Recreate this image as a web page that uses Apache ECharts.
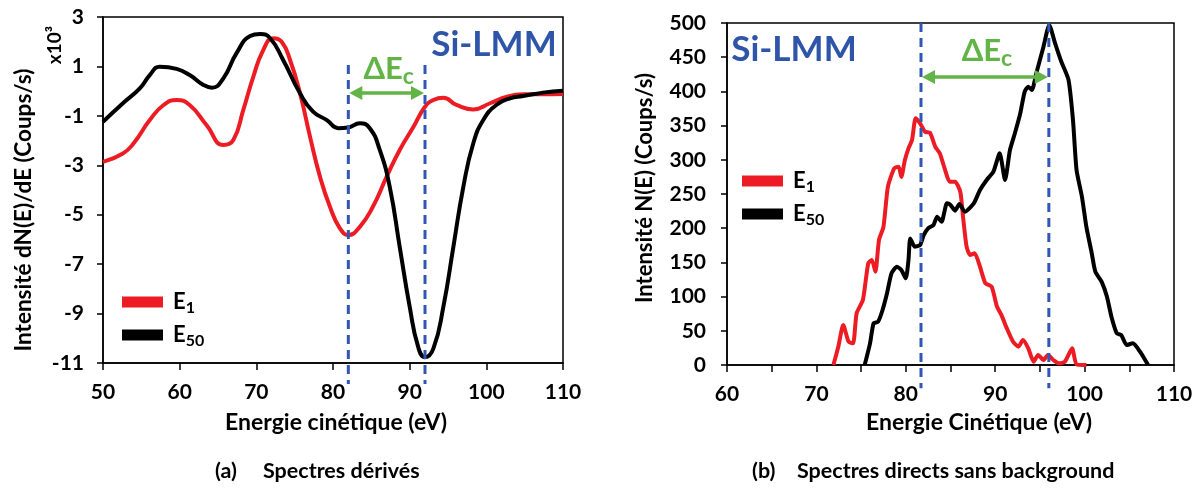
<!DOCTYPE html>
<html><head><meta charset="utf-8">
<script src="https://cdn.jsdelivr.net/npm/echarts@6/dist/echarts.min.js"></script>
<style>html,body{margin:0;padding:0;background:#fff}#c{width:1204px;height:488px}</style>
</head><body><div id="c"></div>
<script>
// ---- (a) derivative spectra ----
const derivE1X = [50, 52.6, 54.0, 56.1, 57.9, 59.6, 61.3, 63.5, 65.7, 67.0, 68.3, 69.6, 70.9, 72.2, 73.3, 74.4, 75.7, 77.0, 78.3, 79.6, 80.9, 82.0, 83.5, 85.2, 87.0, 88.7, 90.5, 92.0, 93.1, 94.4, 96.1, 98.3, 100.5, 102.6, 104.8, 107.0, 110];
const derivE1Y = [-2.86, -2.52, -2.11, -1.17, -0.56, -0.36, -0.56, -1.37, -2.18, -1.98, -0.76, 0.58, 1.66, 2.14, 2.0, 1.26, -0.09, -1.84, -3.46, -4.68, -5.55, -5.82, -5.49, -4.68, -3.46, -2.38, -1.44, -0.63, -0.36, -0.27, -0.56, -0.74, -0.49, -0.23, -0.13, -0.13, -0.12];
const derivE50X = [50, 52.6, 54.8, 56.1, 57.4, 59.6, 61.3, 63.1, 64.2, 65.7, 67.4, 69.2, 70.5, 71.8, 73.5, 75.7, 77.4, 79.2, 80.7, 82.0, 83.5, 84.8, 86.1, 87.4, 88.7, 90.0, 91.1, 92.0, 93.1, 94.4, 95.7, 97.0, 98.3, 99.6, 101.3, 103.1, 104.8, 107.4, 110];
const derivE50Y = [-1.24, -0.49, 0.11, 0.65, 0.99, 0.90, 0.65, 0.25, 0.14, 0.52, 1.53, 2.23, 2.31, 2.14, 1.26, -0.09, -0.83, -1.17, -1.50, -1.47, -1.30, -1.50, -2.38, -3.87, -6.30, -8.72, -10.34, -10.77, -10.41, -8.72, -6.30, -3.87, -2.11, -1.17, -0.56, -0.29, -0.20, -0.06, 0.02];
// ---- (b) direct spectra ----
const directE1X = [71.9, 72.45, 73.0, 73.6, 74.1, 74.5, 75.2, 75.8, 76.2, 76.6, 77.0, 77.5, 78.0, 78.7, 79.2, 79.5, 79.9, 80.3, 80.7, 81.1, 81.6, 82.15, 82.7, 83.3, 83.8, 84.4, 84.9, 85.5, 86.1, 86.4, 86.8, 87.2, 87.7, 88.3, 88.9, 89.6, 90.2, 90.7, 91.3, 92.0, 92.6, 93.1, 93.7, 94.3, 94.8, 95.4, 95.9, 96.5, 97.1, 97.8, 98.6, 99.1, 100.2];
const directE1Y = [0, 26.8, 58.5, 34.1, 31.7, 75.6, 95, 148.7, 153.5, 136.4, 182.7, 202, 260.7, 287.5, 290, 275, 299.7, 316.8, 329, 360.7, 353.4, 341, 339.6, 319, 309.5, 285, 268, 268, 253, 216.8, 173, 160.8, 163.3, 143.7, 119.5, 114.5, 85.3, 73, 53.6, 34, 26.8, 36.5, 24.4, 4.9, 14.6, 7.3, 14.6, 7.3, 2.4, 4.9, 24.4, 1, 0];
const directE50X = [75.4, 76.0, 76.4, 76.9, 77.4, 77.9, 78.4, 79.0, 79.5, 80.0, 80.3, 80.5, 81.0, 81.6, 82.0, 82.5, 83.1, 83.5, 84.0, 84.6, 85.0, 85.5, 86.0, 86.6, 87.6, 88.3, 89.05, 89.8, 90.5, 91.1, 91.65, 92.2, 92.8, 93.3, 93.7, 94.1, 94.6, 95.4, 96.05, 96.7, 97.4, 98.2, 98.7, 99.1, 99.7, 100.2, 100.8, 101.2, 101.9, 102.5, 103.0, 103.6, 104.1, 104.7, 105.4, 106.2, 107.1];
const directE50Y = [0, 31.7, 61, 63.3, 80.4, 104.8, 134, 143.7, 138.9, 126.7, 153.5, 185, 173, 175.4, 190, 199.8, 204.7, 216.8, 209.5, 236.3, 234, 225.6, 235.4, 224, 236.3, 255.8, 270.5, 282.6, 309.5, 270.5, 314.3, 338.8, 367.8, 399.6, 406.9, 402, 426.4, 465.4, 497, 470.3, 443.4, 416.7, 358.2, 285, 246, 202, 163.3, 136.4, 121.8, 99.8, 70.6, 46.3, 43.9, 29.2, 31.7, 19.5, 0];
// annotation values
const derivMarks = [82.0, 92.0];
const directMarks = [81.7, 96.0];
const seriesNames = ['E1', 'E50'];
const captions = ['(a)', 'Spectres dérivés', '(b)', 'Spectres directs sans background'];

const F = 'Lato, "Open Sans", sans-serif';
const RED = '#ed1c24', BLACK = '#000000', BLUE = '#2f55a8', DASH = '#3057b5', GREEN = '#62b447';
const zip = (xs, ys) => xs.map((x, i) => [x, ys[i]]);

const chart = echarts.init(document.getElementById('c'));

const tickLab = {fontFamily: F, fontWeight: 'bold', fontSize: 21, color: '#000'};
function xAx(grid, min, max, interval, fmt) {
  return {gridIndex: grid, type: 'value', min, max, interval,
    axisLine: {onZero: false, lineStyle: {color: '#000', width: 1.5}},
    axisTick: {length: 7, lineStyle: {color: '#000', width: 1.5}},
    splitLine: {show: false},
    axisLabel: Object.assign({margin: 19, formatter: fmt}, tickLab)};
}
function yAx(grid, min, max, interval, margin) {
  return {gridIndex: grid, type: 'value', min, max, interval,
    axisLine: {show: true, onZero: false, lineStyle: {color: '#000', width: 1.5}},
    axisTick: {show: true, length: 6, lineStyle: {color: '#000', width: 1.5}},
    splitLine: {show: false},
    axisLabel: Object.assign({margin}, tickLab)};
}
const legendRich = {
  m: {fontFamily: F, fontWeight: 'bold', fontSize: 22, color: '#000', padding: [0, 0, 0, 5]},
  s: {fontFamily: F, fontWeight: 'bold', fontSize: 16, color: '#000', padding: [12, 0, 0, 0]}
};
function legend(left, top) {
  return {data: seriesNames, left, top, orient: 'vertical', icon: 'rect', itemWidth: 41, itemHeight: 11,
    itemGap: 8, selectedMode: false,
    formatter: n => '{m|E}{s|' + n.slice(1) + '}',
    textStyle: {rich: legendRich}};
}
function line(name, grid, data, color, smooth) {
  return {name, type: 'line', xAxisIndex: grid, yAxisIndex: grid, data, showSymbol: false, symbol: 'none',
    smooth, lineStyle: {color, width: 4}, itemStyle: {color}, z: 3};
}

chart.setOption({
  animation: false,
  grid: [
    {left: 103, top: 17, width: 460, height: 346, show: true, borderColor: '#000', borderWidth: 1.5},
    {left: 727, top: 23, width: 447, height: 342, show: true, borderColor: '#000', borderWidth: 1.5}
  ],
  xAxis: [xAx(0, 50, 110, 10), xAx(1, 60, 110, 5, v => (v % 10 === 0 ? String(v) : ''))],
  yAxis: [yAx(0, -11, 3, 2, 19), yAx(1, 0, 500, 50, 21)],
  legend: [legend(117, 286), legend(737, 165)],
  series: [
    line('E1', 0, zip(derivE1X, derivE1Y), RED, 0.5),
    line('E50', 0, zip(derivE50X, derivE50Y), BLACK, 0.5),
    line('E1', 1, zip(directE1X, directE1Y), RED, 0.2),
    line('E50', 1, zip(directE50X, directE50Y), BLACK, 0.2)
  ]
});

function px(grid, x, y) { return chart.convertToPixel({gridIndex: grid}, [x, y]); }
const G = [];
function annot(grid, xs, yTop, yBot, yArrow, labelDy) {
  const a = px(grid, xs[0], yArrow), b = px(grid, xs[1], yArrow);
  xs.forEach(x => {
    const t = px(grid, x, yTop), bt = px(grid, x, yBot);
    G.push({type: 'line', z: 10, shape: {x1: t[0], y1: t[1], x2: bt[0], y2: bt[1]},
      style: {stroke: DASH, lineWidth: 3, lineDash: [9, 6]}});
  });
  const ay = a[1], hl = 13, hw = 7;
  G.push({type: 'line', z: 11, shape: {x1: a[0] + hl - 2, y1: ay, x2: b[0] - hl + 2, y2: ay},
    style: {stroke: GREEN, lineWidth: 3.5}});
  G.push({type: 'polygon', z: 11, shape: {points: [[a[0] + 1, ay], [a[0] + hl + 1, ay - hw], [a[0] + hl + 1, ay + hw]]}, style: {fill: GREEN}});
  G.push({type: 'polygon', z: 11, shape: {points: [[b[0] - 1, ay], [b[0] - hl - 1, ay - hw], [b[0] - hl - 1, ay + hw]]}, style: {fill: GREEN}});
  G.push({type: 'text', z: 12, x: (a[0] + b[0]) / 2 + 2, y: ay + labelDy,
    style: {text: '{a|ΔE}{b|c}', align: 'center', verticalAlign: 'middle',
      rich: {a: {fontFamily: F, fontWeight: 'bold', fontSize: 31, fill: GREEN, color: GREEN},
             b: {fontFamily: F, fontWeight: 'bold', fontSize: 23, fill: GREEN, color: GREEN, padding: [15, 0, 0, 0]}}}});
}
annot(0, derivMarks, 1.06, -11.85, -0.08, -24);
annot(1, directMarks, 500, -34, 421, -26);

const T = (x, y, text, size, opts) => Object.assign({type: 'text', z: 12, x, y,
  style: Object.assign({text, fontFamily: F, fontWeight: 'bold', fontSize: size, fill: '#000', align: 'center', verticalAlign: 'middle'}, (opts || {}).style || {})},
  opts && opts.rotation ? {rotation: opts.rotation} : {});
// Si-LMM
G.push(T(494, 45, 'Si-LMM', 35, {style: {fill: BLUE}}));
G.push(T(794, 50, 'Si-LMM', 35, {style: {fill: BLUE}}));
// axis titles
G.push(T(336, 423, 'Energie cinétique (eV)', 23));
G.push(T(979, 423, 'Energie Cinétique (eV)', 23));
G.push(T(24, 210, 'Intensité dN(E)/dE (Coups/s)', 22.5, {rotation: Math.PI / 2}));
G.push(T(55, 45, 'x10³', 19, {rotation: Math.PI / 2}));
G.push(T(645, 188, 'Intensité N(E) (Coups/s)', 22, {rotation: Math.PI / 2}));
// captions
G.push(T(215, 471, captions[0], 21.5, {style: {align: 'left'}}));
G.push(T(263, 471, captions[1], 21.5, {style: {align: 'left'}}));
G.push(T(752, 471, captions[2], 21.5, {style: {align: 'left'}}));
G.push(T(797, 471, captions[3], 21.5, {style: {align: 'left'}}));

chart.setOption({graphic: G});
</script></body></html>
